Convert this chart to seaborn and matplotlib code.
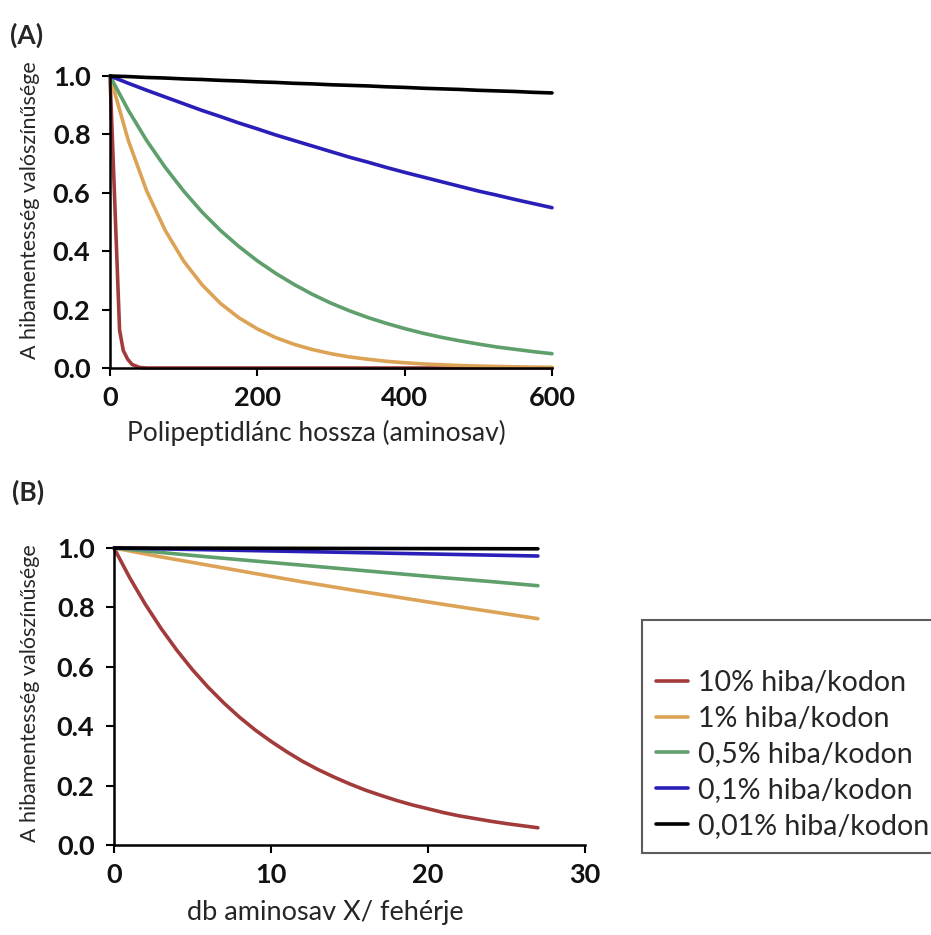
import matplotlib
matplotlib.use("Agg")
import matplotlib.pyplot as plt
import seaborn as sns
import pandas as pd

# ---------------- data ----------------
series_labels = ["10% hiba/kodon", "1% hiba/kodon", "0,5% hiba/kodon",
                 "0,1% hiba/kodon", "0,01% hiba/kodon"]
colors = ["#a23c3c", "#dca255", "#5e9f6c", "#2a1eb8", "#000000"]

# Panel A
a_x_red = [0, 13, 18, 24, 30, 40, 50, 600]
a_red = [1.0, 0.13, 0.06, 0.03, 0.012, 0.002, 0.0, 0.0]

a_x = [0, 25, 50, 75, 100, 125, 150, 175, 200, 225, 250, 275, 300,
       325, 350, 375, 400, 425, 450, 475, 500, 525, 550, 575, 600]
a_orange = [1.000, 0.778, 0.605, 0.471, 0.366, 0.285, 0.221, 0.172, 0.134,
            0.104, 0.081, 0.063, 0.049, 0.038, 0.030, 0.023, 0.018, 0.014,
            0.011, 0.0085, 0.0066, 0.0051, 0.0040, 0.0031, 0.0024]
a_green = [1.000, 0.882, 0.778, 0.687, 0.606, 0.534, 0.471, 0.416, 0.367,
           0.324, 0.286, 0.252, 0.222, 0.196, 0.173, 0.153, 0.135, 0.119,
           0.105, 0.093, 0.082, 0.072, 0.064, 0.056, 0.049]
a_blue = [1.000, 0.975, 0.951, 0.928, 0.905, 0.882, 0.861, 0.839, 0.819,
          0.798, 0.779, 0.760, 0.741, 0.722, 0.705, 0.687, 0.670, 0.654,
          0.638, 0.622, 0.606, 0.592, 0.577, 0.563, 0.549]
a_black = [1.000, 0.998, 0.995, 0.993, 0.990, 0.988, 0.985, 0.983, 0.980,
           0.978, 0.975, 0.973, 0.970, 0.968, 0.966, 0.963, 0.961, 0.958,
           0.956, 0.954, 0.951, 0.949, 0.947, 0.944, 0.942]

# Panel B
b_x_red = list(range(0, 28))
b_red = [1.0, 0.9, 0.81, 0.729, 0.656, 0.590, 0.531, 0.478, 0.430, 0.387,
         0.349, 0.314, 0.282, 0.254, 0.229, 0.206, 0.185, 0.167, 0.150,
         0.135, 0.122, 0.109, 0.098, 0.089, 0.080, 0.072, 0.065, 0.058]
b_x = [0, 3, 6, 9, 12, 15, 18, 21, 24, 27]
b_orange = [1.0, 0.970, 0.942, 0.914, 0.886, 0.860, 0.835, 0.810, 0.786, 0.762]
b_green = [1.0, 0.985, 0.970, 0.956, 0.942, 0.928, 0.914, 0.900, 0.887, 0.873]
b_blue = [1.0, 0.997, 0.994, 0.991, 0.988, 0.985, 0.982, 0.979, 0.976, 0.973]
b_black = [1.0, 0.9997, 0.9994, 0.9991, 0.9988, 0.9985, 0.9982, 0.9979, 0.9976, 0.9973]

a_ticks_x = [0, 200, 400, 600]
b_ticks_x = [0, 10, 20, 30]
y_ticks = [0.0, 0.2, 0.4, 0.6, 0.8, 1.0]
a_xlabel = "Polipeptidlánc hossza (aminosav)"
b_xlabel = "db aminosav X/ fehérje"
ylabel = "A hibamentesség valószínűsége"

# ---------------- style ----------------
sns.set_theme(style="white")
plt.rcParams["font.family"] = ["Lato", "DejaVu Sans"]

fig = plt.figure(figsize=(9.31, 9.35), dpi=100)
axA = fig.add_axes([110 / 931, 1 - 368 / 935, 442 / 931, 292 / 935])
axB = fig.add_axes([114 / 931, 1 - 845 / 935, 471 / 931, 297 / 935])

LW = 2.6

def draw(ax, xs_list, ys_list):
    for xs, ys, c, lab in zip(xs_list, ys_list, colors, series_labels):
        df = pd.DataFrame({"x": xs, "y": ys})
        sns.lineplot(data=df, x="x", y="y", color=c, linewidth=LW, ax=ax,
                     label=lab, clip_on=False, legend=False)

draw(axA, [a_x_red, a_x, a_x, a_x, a_x], [a_red, a_orange, a_green, a_blue, a_black])
draw(axB, [b_x_red, b_x, b_x, b_x, b_x], [b_red, b_orange, b_green, b_blue, b_black])

panels = [
    (axA, a_ticks_x, a_xlabel, 600, 19, (0.468, -0.222), (-0.181, 0.54)),
    (axB, b_ticks_x, b_xlabel, 30, 19.5, (0.448, -0.228), (-0.178, 0.51)),
]
for ax, xt, xl, xmax, xfs, xlc, ylc in panels:
    ax.set_xlim(0, xmax)
    ax.set_ylim(0, 1.0)
    ax.set_xticks(xt)
    ax.set_yticks(y_ticks)
    ax.set_xticklabels([str(v) for v in xt], fontsize=19.5, fontweight="bold")
    ax.set_yticklabels([f"{v:.1f}" for v in y_ticks], fontsize=19.5, fontweight="bold")
    ax.set_xlabel(xl, fontsize=xfs)
    ax.set_ylabel(ylabel, fontsize=15.5)
    ax.xaxis.set_label_coords(*xlc)
    ax.xaxis.label.set_va("center")
    ax.yaxis.set_label_coords(*ylc)
    ax.yaxis.label.set_va("center")
    for s in ["top", "right"]:
        ax.spines[s].set_visible(False)
    for s in ["left", "bottom"]:
        ax.spines[s].set_color("black")
        ax.spines[s].set_linewidth(1.8)
    ax.tick_params(direction="out", length=6, width=1.5, color="black",
                   left=True, bottom=True, labelcolor="#111111")
    ax.tick_params(axis="x", pad=7)
    ax.tick_params(axis="y", pad=8)
    ax.set_facecolor("white")

fig.text(10 / 931, 1 - 35 / 935, "(A)", fontsize=19, fontweight="bold", va="center", ha="left")
fig.text(12 / 931, 1 - 492 / 935, "(B)", fontsize=19, fontweight="bold", va="center", ha="left")

handles, labels = axB.get_legend_handles_labels()
leg = fig.legend(handles, labels, loc="upper left",
                 bbox_to_anchor=(642 / 931, 1 - 620 / 935),
                 frameon=True, fancybox=False, edgecolor="#333333",
                 fontsize=20.5, title=" ", title_fontsize=20.5,
                 handlelength=1.1, handletextpad=0.35, labelspacing=0.34,
                 borderpad=0.5, borderaxespad=0)
leg.get_frame().set_linewidth(1.5)

fig.savefig("out.png", dpi=100, facecolor="white")
